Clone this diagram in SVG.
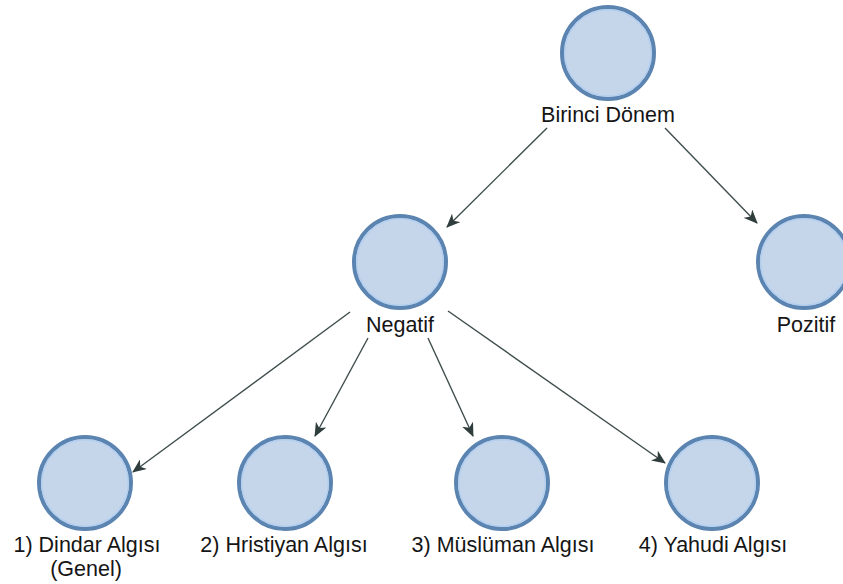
<svg xmlns="http://www.w3.org/2000/svg" width="843" height="584" viewBox="0 0 843 584">
<style>
.node circle.o{fill:#c6d6ea;stroke:#5b84b1;stroke-width:4}
.node circle.i{fill:none;stroke:#b3cff0;stroke-width:1.5}
.node text{font-family:"Liberation Sans",Arial,sans-serif;font-size:21.5px;fill:#151515;text-anchor:middle}
.edges line{stroke:#3f4d4d;stroke-width:1.4;marker-end:url(#arr)}
</style>
<defs>
<marker id="arr" viewBox="0 0 14 12" refX="13" refY="6" markerWidth="14" markerHeight="12" markerUnits="userSpaceOnUse" orient="auto">
<path d="M0,0 L14,6 L0,12 L4,6 Z" fill="#2f3d3d"/>
</marker>
</defs>
<rect width="843" height="584" fill="#ffffff"/>
<g class="edges" id="connectors">
<line x1="547" y1="128" x2="447" y2="227"/>
<line x1="665" y1="128" x2="757" y2="223"/>
<line x1="350" y1="312" x2="133" y2="472"/>
<line x1="368" y1="338" x2="315" y2="436"/>
<line x1="428" y1="338" x2="473" y2="436"/>
<line x1="448" y1="311" x2="665" y2="463"/>
</g>
<g class="node" id="birinci">
<circle class="o" cx="608" cy="53" r="46"/><circle class="i" cx="608" cy="53" r="43.3"/>
<text x="608" y="122">Birinci Dönem</text>
</g>
<g class="node" id="negatif">
<circle class="o" cx="400" cy="262" r="46"/><circle class="i" cx="400" cy="262" r="43.3"/>
<text x="400" y="332">Negatif</text>
</g>
<g class="node" id="pozitif">
<circle class="o" cx="804" cy="262" r="46"/><circle class="i" cx="804" cy="262" r="43.3"/>
<text x="806" y="332">Pozitif</text>
</g>
<g class="node" id="dindar">
<circle class="o" cx="85" cy="483" r="46"/><circle class="i" cx="85" cy="483" r="43.3"/>
<text x="87" y="552">1) Dindar Algısı</text>
<text x="86" y="576">(Genel)</text>
</g>
<g class="node" id="hristiyan">
<circle class="o" cx="285" cy="483" r="46"/><circle class="i" cx="285" cy="483" r="43.3"/>
<text x="284" y="552">2) Hristiyan Algısı</text>
</g>
<g class="node" id="musluman">
<circle class="o" cx="502" cy="483" r="46"/><circle class="i" cx="502" cy="483" r="43.3"/>
<text x="503" y="552">3) Müslüman Algısı</text>
</g>
<g class="node" id="yahudi">
<circle class="o" cx="712" cy="483" r="46"/><circle class="i" cx="712" cy="483" r="43.3"/>
<text x="713" y="552">4) Yahudi Algısı</text>
</g>
</svg>
